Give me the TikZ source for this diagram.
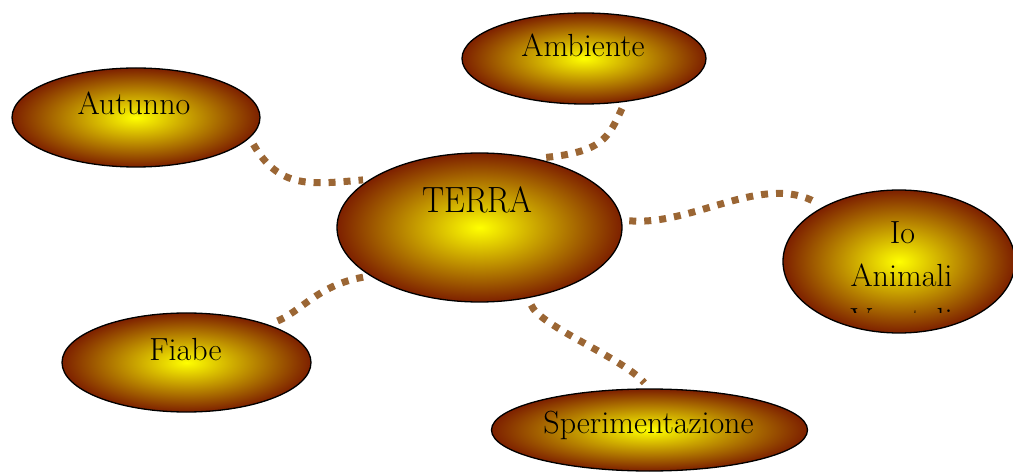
\documentclass[tikz,border=0pt]{standalone}
\usetikzlibrary{shapes.geometric}
\definecolor{ellout}{RGB}{125,32,0}
\definecolor{conncol}{RGB}{155,102,52}
\tikzset{
  bubble/.style={ellipse, draw=black, line width=1.3pt, inner sep=0pt, outer sep=0pt,
    shading=radial, inner color=yellow, outer color=ellout},
  lbl/.style={anchor=base, inner sep=0pt, font=\fontsize{32}{38}\selectfont, text=black},
  biglbl/.style={lbl, font=\fontsize{36.5}{44}\selectfont},
  conn/.style={draw=conncol, line width=7pt, dash pattern=on 7pt off 8pt,
    shorten <=8pt, shorten >=8pt},
}
\begin{document}
\begin{tikzpicture}[x=1pt,y=1pt]
\useasboundingbox (0,0) rectangle (1013,472);
% ellipses
\node[bubble, minimum width=244pt, minimum height=91pt] (amb) at (584,413.5) {};
\node[bubble, minimum width=248pt, minimum height=99pt] (aut) at (136,354.5) {};
\node[bubble, minimum width=285pt, minimum height=149pt] (terra) at (479.5,244.5) {};
\node[bubble, minimum width=232pt, minimum height=143pt] (io) at (899,210.5) {};
\node[bubble, minimum width=249pt, minimum height=99pt] (fia) at (186.5,109.5) {};
\node[bubble, minimum width=316pt, minimum height=82pt] (spe) at (649.5,42) {};
% texts
\node[lbl] (tamb) at (583,415) {Ambiente};
\node[lbl] (taut) at (134,357) {Autunno};
\node[biglbl] (tterra) at (477.5,259.5) {\scalebox{0.905}[1]{TERRA}};
\node[lbl] (tio) at (902.5,228) {Io};
\node[lbl] (tani) at (901.5,185) {Animali};
\begin{scope}
  \clip (780,159) rectangle (1013,200);
  \node[lbl] (tveg) at (901.5,142) {Vegetali};
\end{scope}
\node[lbl] (tfia) at (185.5,112) {Fiabe};
\node[lbl] (tspe) at (648.5,39) {Sperimentazione};
% connectors
\draw[conn] (aut.-10) .. controls +(-60:60) and +(185:60) .. (terra.156);
\draw[conn] (amb.-46) .. controls +(245:40) and +(5:70) .. (terra.52);
\draw[conn] (terra.3) .. controls +(-5:72) and +(150:70) .. (io.144);
\draw[conn] (terra.204) .. controls +(190:55) and +(20:35) .. (fia.25);
\draw[conn] (terra.-55) .. controls +(-70:30) and +(130:40) .. (spe.90);
\end{tikzpicture}
\end{document}
